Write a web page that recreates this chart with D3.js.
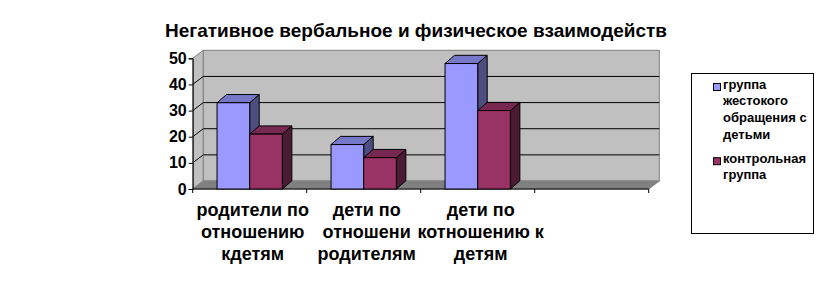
<!DOCTYPE html>
<html>
<head>
<meta charset="utf-8">
<script src="https://cdn.jsdelivr.net/npm/d3@7/dist/d3.min.js"></script>
<style>
  html, body { margin: 0; padding: 0; background: #fff; }
  svg { display: block; font-family: "Liberation Sans", Arial, sans-serif; }
</style>
</head>
<body>
<svg id="chart" width="836" height="302"></svg>
<script>
// ---- data ----
const title = "Негативное вербальное и физическое взаимодейств";
const categories = ["родители по отношению кдетям", "дети по отношени родителям", "дети по котношению к детям", ""];
const categoryLabelLines = [
  ["родители по", "отношению", "кдетям"],
  ["дети по", "отношени", "родителям"],
  ["дети по", "котношению к", "детям"],
  []
];
const seriesNames = ["группа жестокого обращения с детьми", "контрольная группа"];
const legendLines = [["группа", "жестокого", "обращения с", "детьми"], ["контрольная", "группа"]];
const abuseGroup = [33, 17, 48, null];
const controlGroup = [21, 12, 30, null];
const yTicks = [0, 10, 20, 30, 40, 50];
const seriesColors = ["#9999FF", "#993366"];

// ---- layout ----
const svg = d3.select("#chart");
const x0 = 192.7, x1 = 648.7, yBottom = 189, yTop = 58.3;
const wallDx = 10.6, wallDy = 8;
const barDx = 9.5, barDy = 8.2;

const y = d3.scaleLinear().domain([0, 50]).range([yBottom, yTop]);
const x = d3.scaleBand().domain(categories.map((c, i) => i)).range([x0, x1]).paddingInner(0).paddingOuter(0);
const xs = d3.scaleBand().domain(seriesNames).range([0, x.bandwidth()]).paddingInner(0).paddingOuter(0.745);

const shade = (c, k) => { const r = d3.rgb(c); return d3.rgb(r.r * k, r.g * k, r.b * k).formatHex(); };

// walls
const g = svg.append("g");
g.append("polygon")
  .attr("points", [[x0, y(0)], [x0, y(50)], [x0 + wallDx, y(50) - wallDy], [x0 + wallDx, y(0) - wallDy]].join(" "))
  .attr("fill", "#C0C0C0").attr("stroke", "#808080");
g.append("rect")
  .attr("x", x0 + wallDx).attr("y", y(50) - wallDy)
  .attr("width", x1 - x0).attr("height", y(0) - y(50))
  .attr("fill", "#C0C0C0").attr("stroke", "#808080");
g.append("polygon")
  .attr("points", [[x0, y(0)], [x0 + wallDx, y(0) - wallDy], [x1 + wallDx, y(0) - wallDy], [x1, y(0)]].join(" "))
  .attr("fill", "#808080").attr("stroke", "#808080");

// gridlines
yTicks.filter(v => v > 0 && v < 50).forEach(v => {
  g.append("line").attr("x1", x0 + wallDx).attr("x2", x1 + wallDx)
    .attr("y1", y(v) - wallDy).attr("y2", y(v) - wallDy).attr("stroke", "#000");
  g.append("line").attr("x1", x0).attr("x2", x0 + wallDx)
    .attr("y1", y(v)).attr("y2", y(v) - wallDy).attr("stroke", "#000");
});

// axes
const yAxis = d3.axisLeft(y).tickValues(yTicks).tickSize(4).tickPadding(2);
const ya = svg.append("g").attr("transform", `translate(${x0},0)`).call(yAxis);
ya.select(".domain").attr("stroke", "#000");
ya.selectAll(".tick line").attr("stroke", "#000");
ya.selectAll(".tick text").attr("font-size", 16).attr("font-weight", "bold")
  .attr("font-family", "Liberation Sans, Arial, sans-serif").attr("fill", "#000");

svg.append("line").attr("x1", x0).attr("x2", x1).attr("y1", y(0)).attr("y2", y(0)).attr("stroke", "#000");
d3.range(categories.length + 1).forEach(i => {
  const xx = i < categories.length ? x(i) : x1;
  svg.append("line").attr("x1", xx).attr("x2", xx).attr("y1", y(0)).attr("y2", y(0) + 4).attr("stroke", "#000");
});

// bars
const seriesData = [abuseGroup, controlGroup];
categories.forEach((c, i) => {
  seriesData.forEach((vals, s) => {
    const v = vals[i];
    if (v == null) return;
    const bx = x(i) + xs(seriesNames[s]);
    const bw = xs.bandwidth();
    const top = y(v), bot = y(0);
    const col = seriesColors[s];
    const bg = svg.append("g");
    bg.append("polygon")
      .attr("points", [[bx + bw, top], [bx + bw + barDx, top - barDy], [bx + bw + barDx, bot - barDy], [bx + bw, bot]].join(" "))
      .attr("fill", shade(col, 0.5)).attr("stroke", "#000").attr("stroke-linejoin", "round");
    bg.append("polygon")
      .attr("points", [[bx, top], [bx + barDx, top - barDy], [bx + bw + barDx, top - barDy], [bx + bw, top]].join(" "))
      .attr("fill", shade(col, 0.78)).attr("stroke", "#000").attr("stroke-linejoin", "round");
    bg.append("rect").attr("x", bx).attr("y", top).attr("width", bw).attr("height", bot - top)
      .attr("fill", col).attr("stroke", "#000");
  });
});

// category labels
categories.forEach((c, i) => {
  const cx = x(i) + x.bandwidth() / 2 + 3;
  const t = svg.append("text").attr("text-anchor", "middle")
    .attr("font-size", 18).attr("font-weight", "bold").attr("fill", "#000");
  categoryLabelLines[i].forEach((ln, k) => {
    t.append("tspan").attr("x", cx).attr("y", 216 + k * 22).text(ln);
  });
});

// title
svg.append("text").attr("x", 416).attr("y", 37).attr("text-anchor", "middle")
  .attr("font-size", 19).attr("font-weight", "bold").attr("fill", "#000").text(title);

// legend
const lg = svg.append("g");
lg.append("rect").attr("x", 691.5).attr("y", 73.5).attr("width", 122).attr("height", 160)
  .attr("fill", "#fff").attr("stroke", "#000");
const legendBase = [88.5, 162.7];
seriesNames.forEach((n, s) => {
  lg.append("rect").attr("x", 713.5).attr("y", legendBase[s] - 5).attr("width", 7).attr("height", 7)
    .attr("fill", seriesColors[s]).attr("stroke", "#000");
  const t = lg.append("text").attr("font-size", 13).attr("font-weight", "bold").attr("fill", "#000");
  legendLines[s].forEach((ln, k) => {
    t.append("tspan").attr("x", 723).attr("y", legendBase[s] + k * 16.7).text(ln);
  });
});
</script>
</body>
</html>
